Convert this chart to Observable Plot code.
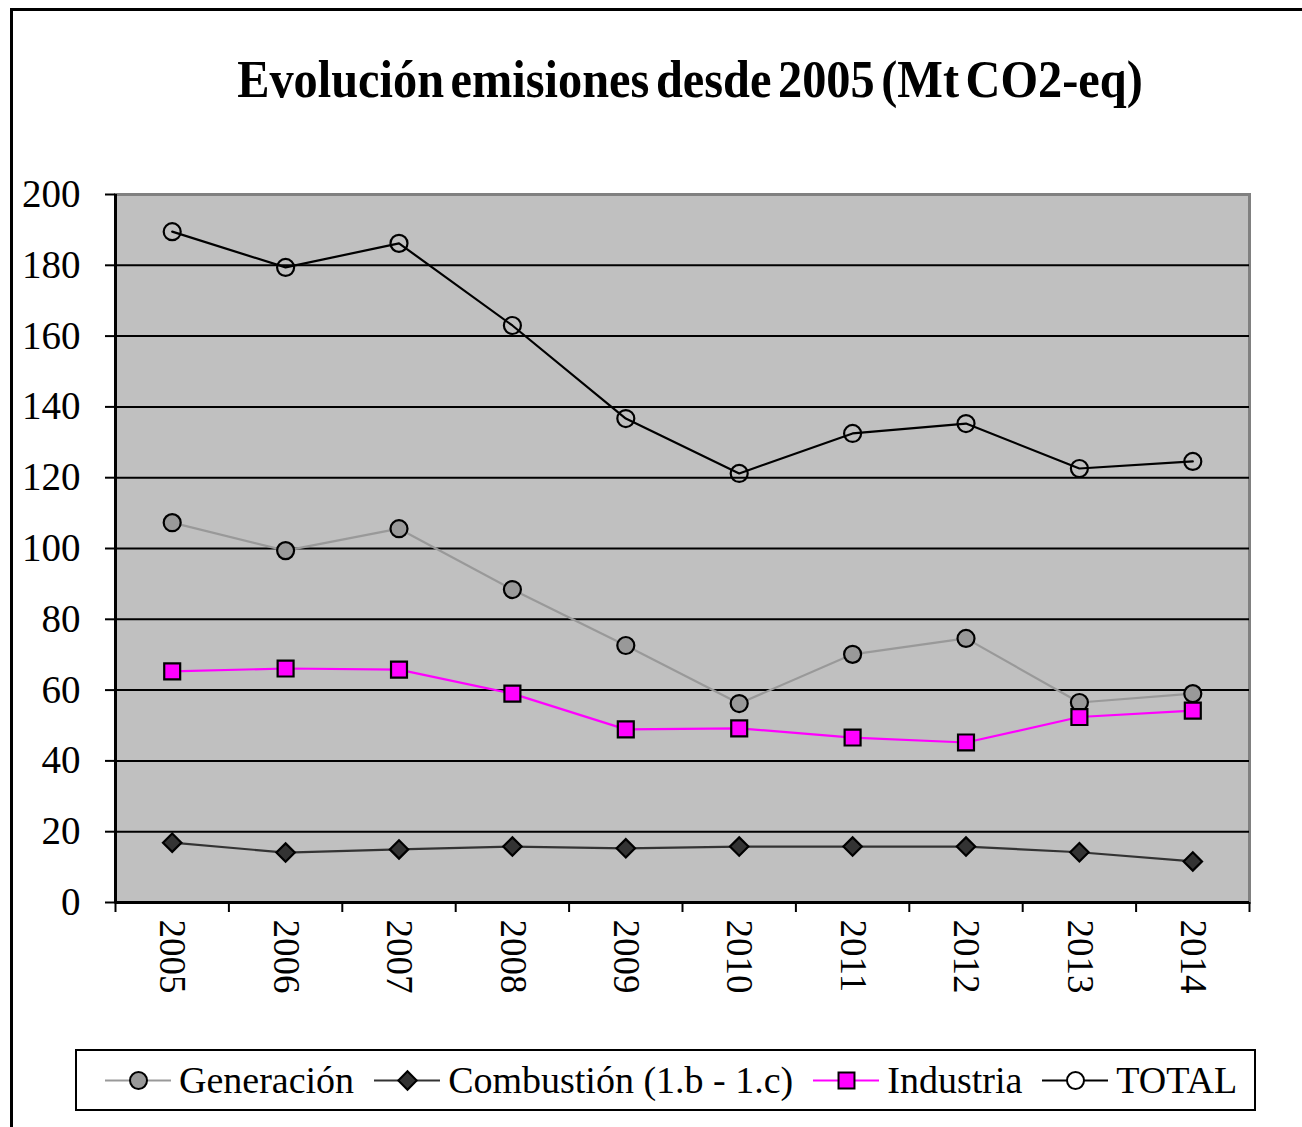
<!DOCTYPE html>
<html>
<head>
<meta charset="utf-8">
<script src="https://cdn.jsdelivr.net/npm/d3@7"></script>
<script src="https://cdn.jsdelivr.net/npm/@observablehq/plot@0.6"></script>
<style>
  html, body { margin: 0; padding: 0; background: #fff; overflow: hidden; }
  #wrap { position: relative; width: 1302px; height: 1127px; overflow: hidden; font-family: "Liberation Serif", "Times New Roman", serif; color: #000; }
  #frame { position: absolute; left: 10px; top: 8px; width: 1400px; height: 1300px; border: 3px solid #000; box-sizing: border-box; }
  #chart { position: absolute; left: 0; top: 0; }
  #title { position: absolute; left: 0; width: 1380px; top: 54px; text-align: center; font-weight: bold; font-size: 52px; line-height: 52px; word-spacing: -6px; white-space: nowrap; transform: scaleX(0.93); transform-origin: 690px 0; }
  #legend { position: absolute; left: 75px; top: 1049px; width: 1181px; height: 62px; border: 2px solid #000; box-sizing: border-box; display: flex; align-items: center; justify-content: flex-start; padding-left: 28px; gap: 20px; font-size: 38px; background: #fff; }
  .item { display: flex; align-items: center; gap: 8px; white-space: nowrap; }
  .item svg { display: block; }
</style>
</head>
<body>
<div id="wrap">
  <div id="frame"></div>
  <div id="chart"></div>
  <div id="title">Evolución emisiones desde 2005 (Mt CO2-eq)</div>
  <div id="legend"></div>
</div>
<script>
// ---- data ----
const years = [2005, 2006, 2007, 2008, 2009, 2010, 2011, 2012, 2013, 2014];
const seriesNames = ["Generación", "Combustión (1.b - 1.c)", "Industria", "TOTAL"];
const generacion = [107.3, 99.4, 105.6, 88.4, 72.6, 56.2, 70.1, 74.6, 56.5, 59.0];
const combustion = [16.9, 14.1, 15.0, 15.8, 15.3, 15.8, 15.8, 15.8, 14.2, 11.6];
const industria  = [65.3, 66.1, 65.8, 59.0, 48.9, 49.2, 46.6, 45.2, 52.4, 54.2];
const total      = [189.5, 179.4, 186.2, 163.0, 136.7, 121.2, 132.5, 135.3, 122.6, 124.6];
const yTicks = [0, 20, 40, 60, 80, 100, 120, 140, 160, 180, 200];

// ---- styles per series ----
const styles = {
  "Generación":             {line: "#999999", fill: "#999999", symbol: "circle",   r: 8.5},
  "Combustión (1.b - 1.c)": {line: "#333333", fill: "#333333", symbol: "diamond2", r: 8.3},
  "Industria":              {line: "#ff00ff", fill: "#ff00ff", symbol: "square",   r: 9},
  "TOTAL":                  {line: "#000000", fill: "none",    symbol: "circle",   r: 8.5}
};
const valuesBySeries = [generacion, combustion, industria, total];

const seriesData = seriesNames.map((name, k) =>
  years.map((year, i) => ({series: name, year, value: valuesBySeries[k][i]}))
);

const boundaries = years.map(y => y - 0.5).concat([years[years.length - 1] + 0.5]);

const marks = [
  Plot.frame({fill: "#c0c0c0", stroke: "#808080", strokeWidth: 3}),
  Plot.ruleY(yTicks.filter(t => t > 0 && t < 200), {stroke: "#000", strokeWidth: 2}),
  Plot.ruleY([0], {stroke: "#000", strokeWidth: 3}),
  Plot.ruleX([boundaries[0]], {stroke: "#000", strokeWidth: 3}),
  Plot.axisY({ticks: yTicks, label: null, tickSize: 10, tickPadding: 25, fontSize: 39, strokeWidth: 2, tickFormat: d => String(d)}),
  Plot.axisX({ticks: boundaries, label: null, tickSize: 10, tickFormat: () => "", strokeWidth: 2}),
  Plot.axisX({ticks: years, label: null, tickSize: 0, tickRotate: 90, tickPadding: 17, fontSize: 37, tickFormat: d => String(d)})
];
seriesData.forEach(d => {
  const s = styles[d[0].series];
  marks.push(Plot.line(d, {x: "year", y: "value", stroke: s.line, strokeWidth: 2.2}));
});
seriesData.forEach(d => {
  const s = styles[d[0].series];
  marks.push(Plot.dot(d, {x: "year", y: "value", symbol: () => s.symbol, r: s.r, fill: s.fill, stroke: "#000", strokeWidth: 2.2}));
});

const chart = Plot.plot({
  width: 1302,
  height: 1127,
  marginTop: 194,
  marginLeft: 115,
  marginRight: 53,
  marginBottom: 225,
  style: {fontFamily: "'Liberation Serif', 'Times New Roman', serif", color: "#000", background: "transparent", overflow: "visible"},
  x: {domain: [boundaries[0], boundaries[boundaries.length - 1]], label: null},
  y: {domain: [0, 200], label: null},
  marks
});
document.getElementById("chart").appendChild(chart);

// ---- legend ----
const legend = document.getElementById("legend");
seriesNames.forEach(name => {
  const s = styles[name];
  const item = document.createElement("div");
  item.className = "item";
  const svg = Plot.plot({
    width: 66, height: 26, margin: 0,
    x: {domain: [0, 1], axis: null}, y: {domain: [0, 1], axis: null},
    style: {background: "transparent", overflow: "visible"},
    marks: [
      Plot.ruleY([0.5], {stroke: s.line, strokeWidth: 2.2}),
      Plot.dot([{x: 0.5, y: 0.5}], {x: "x", y: "y", symbol: () => s.symbol, r: s.r, fill: s.fill === "none" ? "white" : s.fill, stroke: "#000", strokeWidth: 2})
    ]
  });
  item.appendChild(svg);
  const label = document.createElement("span");
  label.textContent = name;
  item.appendChild(label);
  legend.appendChild(item);
});
</script>
</body>
</html>
